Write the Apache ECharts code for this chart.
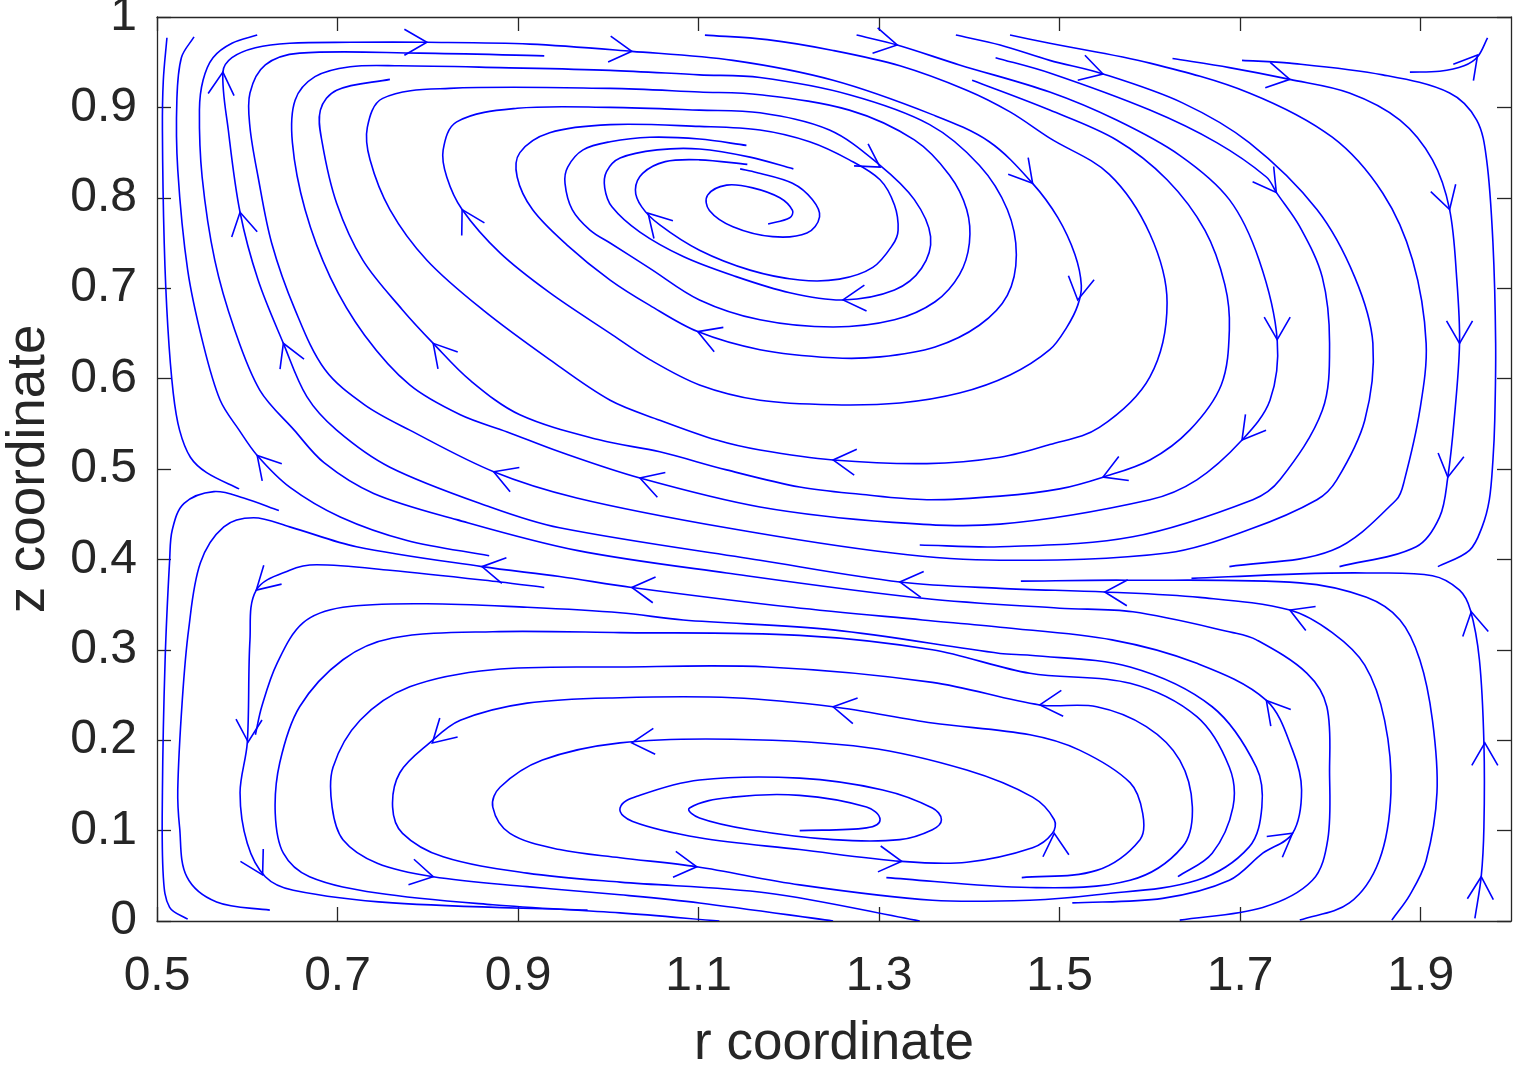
<!DOCTYPE html>
<html>
<head>
<meta charset="utf-8">
<style>html,body{margin:0;padding:0;background:#fff;overflow:hidden}#c{width:1515px;height:1065px}</style>
<script src="https://cdn.jsdelivr.net/npm/echarts@6/dist/echarts.min.js"></script>
</head>
<body>
<div id="c"></div>
<script>
// ---- tick labels ----
const xTickValues = [0.5, 0.7, 0.9, 1.1, 1.3, 1.5, 1.7, 1.9];
const yTickStep = 0.1;

// ---- streamlines, [r, z] points ----
const streamS1 = [[0.511,0.977],[0.507,0.930],[0.506,0.875],[0.508,0.750],[0.512,0.657],[0.518,0.584],[0.525,0.543],[0.537,0.513],[0.555,0.496],[0.591,0.478]];
const streamB = [[0.541,0.978],[0.527,0.955],[0.522,0.908],[0.523,0.831],[0.534,0.720],[0.551,0.639],[0.570,0.576],[0.591,0.543],[0.611,0.515],[0.647,0.480],[0.703,0.447],[0.777,0.421],[0.868,0.404]];
const streamC = [[0.611,0.980],[0.583,0.971],[0.562,0.955],[0.551,0.930],[0.547,0.897],[0.550,0.823],[0.564,0.731],[0.586,0.654],[0.614,0.587],[0.652,0.543],[0.685,0.507],[0.740,0.473],[0.832,0.444],[0.965,0.410],[1.131,0.385],[1.348,0.357],[1.500,0.346],[1.581,0.342],[1.692,0.319],[1.718,0.311],[1.774,0.274],[1.796,0.237],[1.799,0.164],[1.797,0.090],[1.780,0.045],[1.725,0.015],[1.633,0.001]];
const streamD = [[1.766,0.001],[1.821,0.020],[1.854,0.067],[1.867,0.142],[1.860,0.222],[1.838,0.283],[1.802,0.319],[1.755,0.344],[1.655,0.358],[1.550,0.364],[1.434,0.368],[1.323,0.375],[1.168,0.399],[0.946,0.435],[0.869,0.458],[0.758,0.502],[0.699,0.543],[0.666,0.580],[0.640,0.639],[0.612,0.709],[0.592,0.784],[0.579,0.875],[0.573,0.939],[0.583,0.955],[0.609,0.966],[0.647,0.971],[0.714,0.972],[0.799,0.972],[0.913,0.970],[1.026,0.962],[1.138,0.952],[1.249,0.930],[1.359,0.892],[1.422,0.862],[1.470,0.816],[1.498,0.778],[1.517,0.737],[1.524,0.703],[1.520,0.681],[1.508,0.657],[1.489,0.632],[1.445,0.604],[1.389,0.584],[1.323,0.573],[1.249,0.571],[1.168,0.576],[1.101,0.593],[1.046,0.621],[1.002,0.650],[0.935,0.695],[0.880,0.739],[0.838,0.787],[0.821,0.823],[0.817,0.853],[0.832,0.884],[0.899,0.899],[1.002,0.900],[1.101,0.897],[1.168,0.894],[1.245,0.875],[1.301,0.836],[1.339,0.798],[1.357,0.757],[1.347,0.722],[1.317,0.698],[1.260,0.687],[1.201,0.695],[1.138,0.714],[1.083,0.735],[1.035,0.762],[1.004,0.790],[0.996,0.811],[0.998,0.829],[1.013,0.844],[1.054,0.853],[1.101,0.854],[1.157,0.845],[1.205,0.832]];
const streamH = [[1.107,0.980],[1.176,0.975],[1.249,0.963],[1.323,0.946],[1.397,0.919],[1.445,0.895],[1.489,0.866],[1.555,0.826],[1.600,0.760],[1.619,0.684],[1.600,0.602],[1.544,0.546],[1.489,0.527],[1.434,0.513],[1.353,0.506],[1.249,0.510],[1.168,0.521],[1.120,0.532],[1.057,0.554],[1.002,0.576],[0.935,0.621],[0.861,0.676],[0.799,0.731],[0.758,0.787],[0.736,0.842],[0.733,0.878],[0.750,0.910],[0.824,0.921],[1.002,0.921],[1.101,0.917],[1.168,0.914],[1.267,0.897],[1.339,0.864],[1.378,0.825],[1.397,0.787],[1.400,0.750],[1.389,0.715],[1.362,0.685],[1.317,0.665],[1.249,0.657],[1.168,0.665],[1.101,0.687],[1.046,0.722],[1.002,0.750],[0.980,0.764],[0.960,0.787],[0.952,0.816],[0.955,0.834],[0.972,0.853],[1.002,0.862],[1.046,0.867],[1.101,0.865],[1.153,0.858]];
const streamF = [[1.275,0.980],[1.320,0.969],[1.389,0.947],[1.489,0.917],[1.563,0.886],[1.633,0.847],[1.688,0.798],[1.721,0.731],[1.741,0.643],[1.733,0.576],[1.702,0.532],[1.652,0.488],[1.600,0.466],[1.434,0.439],[1.315,0.441],[1.168,0.458],[1.035,0.490],[0.946,0.519],[0.888,0.541],[0.836,0.560],[0.780,0.593],[0.730,0.648],[0.692,0.712],[0.664,0.787],[0.650,0.861],[0.653,0.908],[0.675,0.934],[0.714,0.945],[0.769,0.946],[0.880,0.944],[1.002,0.941],[1.101,0.936],[1.168,0.933],[1.267,0.914],[1.356,0.881],[1.411,0.836],[1.442,0.787],[1.452,0.737],[1.442,0.692],[1.411,0.659],[1.362,0.635],[1.301,0.624],[1.249,0.623],[1.168,0.632],[1.099,0.652],[1.046,0.681],[1.002,0.709],[0.954,0.748],[0.916,0.787],[0.899,0.823],[0.902,0.850],[0.935,0.872],[1.002,0.881],[1.101,0.879],[1.168,0.875],[1.223,0.862],[1.267,0.842],[1.301,0.820],[1.317,0.792],[1.321,0.764],[1.315,0.748],[1.293,0.723],[1.256,0.710],[1.212,0.709],[1.157,0.720],[1.101,0.742],[1.057,0.770],[1.037,0.790],[1.030,0.809],[1.038,0.827],[1.063,0.840],[1.101,0.842],[1.154,0.837]];
const streamG = [[1.403,0.930],[1.489,0.897],[1.563,0.864],[1.619,0.820],[1.661,0.764],[1.683,0.704],[1.688,0.654],[1.679,0.593],[1.644,0.543],[1.600,0.510],[1.548,0.491],[1.500,0.478],[1.434,0.470],[1.353,0.466],[1.279,0.472],[1.212,0.480],[1.131,0.499],[1.057,0.519],[0.991,0.532],[0.902,0.560],[0.847,0.598],[0.806,0.639],[0.772,0.676],[0.728,0.731],[0.699,0.794],[0.683,0.861],[0.681,0.897],[0.699,0.919],[0.758,0.931]];
const streamE = [[1.385,0.980],[1.434,0.969],[1.489,0.952],[1.548,0.937],[1.636,0.905],[1.710,0.861],[1.785,0.787],[1.827,0.712],[1.847,0.639],[1.838,0.554],[1.807,0.488],[1.785,0.466],[1.710,0.433],[1.619,0.407],[1.434,0.399],[1.315,0.407],[1.131,0.435],[0.965,0.468],[0.873,0.497],[0.780,0.543],[0.730,0.571],[0.686,0.610],[0.653,0.676],[0.627,0.750],[0.612,0.823],[0.603,0.878],[0.603,0.916],[0.620,0.947],[0.658,0.960],[0.791,0.960],[0.929,0.957]];
const streamE3 = [[1.429,0.955],[1.489,0.938],[1.600,0.897],[1.674,0.861],[1.729,0.823],[1.740,0.806],[1.766,0.768],[1.791,0.712],[1.799,0.639],[1.791,0.565],[1.744,0.488],[1.714,0.466],[1.581,0.425],[1.434,0.414],[1.345,0.416]];
const streamC3 = [[1.445,0.980],[1.489,0.971],[1.600,0.949],[1.710,0.916],[1.802,0.867],[1.858,0.805],[1.891,0.731],[1.906,0.639],[1.899,0.565],[1.882,0.488],[1.873,0.466],[1.802,0.410],[1.688,0.392]];
const streamB3 = [[1.625,0.954],[1.688,0.944],[1.755,0.931],[1.821,0.916],[1.877,0.886],[1.913,0.842],[1.932,0.787],[1.940,0.709],[1.943,0.639],[1.937,0.554],[1.930,0.491],[1.921,0.447],[1.895,0.414],[1.810,0.392]];
const streamA3 = [[1.702,0.952],[1.755,0.949],[1.858,0.936],[1.932,0.916],[1.962,0.886],[1.973,0.842],[1.980,0.750],[1.983,0.639],[1.982,0.554],[1.980,0.510],[1.976,0.466],[1.968,0.436],[1.954,0.410],[1.919,0.392]];
const streamCorner = [[1.888,0.939],[1.921,0.940],[1.948,0.946],[1.963,0.956],[1.974,0.977]];
const streamCoreUp = [[1.177,0.771],[1.201,0.778],[1.204,0.786],[1.190,0.800],[1.160,0.811],[1.131,0.814],[1.110,0.803],[1.112,0.786],[1.138,0.768],[1.182,0.757],[1.220,0.761],[1.234,0.779],[1.226,0.798],[1.204,0.816],[1.164,0.828],[1.146,0.832]];
const streamM1 = [[1.457,0.376],[1.574,0.377],[1.766,0.374],[1.840,0.358],[1.877,0.333],[1.899,0.289],[1.913,0.222],[1.918,0.142],[1.906,0.067],[1.888,0.029],[1.868,0.001]];
const streamWallR = [[1.646,0.379],[1.766,0.384],[1.840,0.385],[1.913,0.382],[1.943,0.366],[1.955,0.344],[1.965,0.289],[1.970,0.197],[1.970,0.104],[1.967,0.049],[1.960,0.003]];
const streamM4 = [[1.514,0.020],[1.614,0.025],[1.688,0.045],[1.725,0.075],[1.758,0.097],[1.768,0.145],[1.758,0.189],[1.729,0.244],[1.652,0.285],[1.558,0.311],[1.434,0.325],[1.348,0.333],[1.204,0.347],[1.026,0.369],[0.946,0.381],[0.860,0.392],[0.721,0.414],[0.647,0.436],[0.607,0.446],[0.574,0.436],[0.548,0.396],[0.535,0.322],[0.528,0.244],[0.523,0.145],[0.525,0.104],[0.533,0.049],[0.566,0.021],[0.625,0.012]];
const streamWallL = [[0.635,0.454],[0.596,0.468],[0.563,0.475],[0.530,0.462],[0.517,0.433],[0.514,0.399],[0.509,0.289],[0.506,0.142],[0.507,0.049],[0.514,0.015],[0.534,0.002]];
const streamCl = [[0.929,0.369],[0.880,0.375],[0.758,0.388],[0.677,0.394],[0.647,0.388],[0.610,0.366],[0.603,0.311],[0.600,0.197],[0.592,0.142],[0.600,0.086],[0.620,0.049],[0.651,0.034],[0.761,0.020],[0.977,0.012]];
const streamSpiral = [[1.212,0.100],[1.286,0.103],[1.301,0.112],[1.286,0.126],[1.212,0.139],[1.138,0.137],[1.090,0.125],[1.101,0.114],[1.157,0.101],[1.249,0.090],[1.323,0.090],[1.359,0.101],[1.369,0.112],[1.359,0.125],[1.304,0.145],[1.212,0.158],[1.101,0.156],[1.035,0.139],[1.013,0.125],[1.027,0.110],[1.101,0.092],[1.212,0.079],[1.325,0.066],[1.397,0.065],[1.470,0.081],[1.492,0.097],[1.494,0.112],[1.470,0.137],[1.397,0.167],[1.286,0.192],[1.138,0.201],[1.013,0.197],[0.927,0.178],[0.880,0.148],[0.872,0.126],[0.891,0.097],[0.946,0.079],[1.013,0.070],[1.098,0.060],[1.212,0.040],[1.359,0.023],[1.467,0.023],[1.541,0.029],[1.652,0.045],[1.710,0.082],[1.724,0.126],[1.718,0.170],[1.669,0.237],[1.578,0.281],[1.467,0.294],[1.434,0.296],[1.249,0.322],[1.083,0.333],[1.013,0.341],[0.910,0.347],[0.799,0.351],[0.706,0.347],[0.662,0.330],[0.633,0.285],[0.616,0.237],[0.609,0.206]];
const streamL2 = [[1.631,0.049],[1.669,0.075],[1.692,0.126],[1.688,0.170],[1.652,0.226],[1.578,0.263],[1.467,0.274],[1.359,0.300],[1.212,0.316],[1.013,0.319],[0.872,0.320],[0.761,0.313],[0.706,0.289],[0.658,0.237],[0.636,0.175],[0.631,0.119],[0.640,0.075],[0.669,0.049],[0.744,0.031],[0.872,0.018],[1.013,0.009],[1.123,0.000]];
const streamL3 = [[1.308,0.048],[1.467,0.037],[1.578,0.045],[1.636,0.082],[1.647,0.126],[1.633,0.178],[1.596,0.215],[1.541,0.237],[1.478,0.239],[1.359,0.264],[1.176,0.281],[1.013,0.281],[0.872,0.278],[0.780,0.259],[0.725,0.222],[0.695,0.170],[0.694,0.126],[0.706,0.090],[0.744,0.064],[0.806,0.049],[0.910,0.038],[1.013,0.029],[1.101,0.020],[1.249,0.000]];
const streamL4 = [[1.458,0.048],[1.541,0.056],[1.589,0.090],[1.592,0.119],[1.578,0.153],[1.522,0.189],[1.467,0.206],[1.359,0.219],[1.249,0.237],[1.138,0.247],[1.013,0.247],[0.910,0.241],[0.836,0.222],[0.802,0.197],[0.769,0.164],[0.761,0.126],[0.772,0.097],[0.817,0.071],[0.910,0.053],[1.013,0.043],[1.176,0.031],[1.345,0.000]];

// ---- arrowheads: [r tip, z tip, r upstream, z upstream] ----
const arrowData = [
[0.799,0.972,0.769,0.972],[1.026,0.962,0.996,0.965],[0.573,0.939,0.571,0.914],[0.592,0.784,0.597,0.759],
[0.640,0.639,0.650,0.615],[0.611,0.515,0.625,0.499],[0.838,0.787,0.852,0.762],[0.806,0.639,0.824,0.618],
[1.044,0.783,1.059,0.767],[1.301,0.834,1.276,0.850],[1.260,0.687,1.284,0.689],[1.099,0.652,1.123,0.643],
[1.249,0.510,1.279,0.507],[1.035,0.490,1.063,0.481],[0.873,0.497,0.902,0.486],[1.548,0.491,1.572,0.501],
[1.470,0.816,1.450,0.840],[1.520,0.687,1.524,0.712],[1.320,0.969,1.290,0.975],[1.548,0.937,1.520,0.945],
[1.755,0.931,1.724,0.937],[1.740,0.806,1.727,0.824],[1.741,0.643,1.741,0.670],[1.702,0.532,1.719,0.554],
[1.932,0.787,1.924,0.814],[1.943,0.639,1.943,0.667],[1.930,0.491,1.934,0.519],[1.963,0.958,1.954,0.947],
[1.550,0.364,1.578,0.363],[1.755,0.344,1.782,0.333],[1.323,0.375,1.350,0.372],[1.026,0.369,1.054,0.366],
[0.860,0.392,0.888,0.387],[0.610,0.366,0.627,0.382],[1.956,0.342,1.961,0.316],[0.601,0.198,0.602,0.225],
[0.617,0.051,0.605,0.073],[0.805,0.197,0.822,0.213],[0.806,0.049,0.778,0.055],[1.026,0.197,1.054,0.199],
[1.249,0.237,1.276,0.232],[1.478,0.239,1.506,0.241],[1.098,0.060,1.070,0.063],[1.325,0.066,1.297,0.069],
[1.494,0.097,1.496,0.070],[1.729,0.244,1.749,0.220],[1.758,0.097,1.738,0.082],[1.971,0.197,1.971,0.169],
[1.967,0.049,1.966,0.023]
];

const streamlines = [streamS1, streamB, streamC, streamD, streamH, streamF, streamG, streamE, streamE3,
  streamC3, streamB3, streamA3, streamCorner, streamCoreUp, streamM1, streamWallR, streamM4, streamWallL,
  streamCl, streamSpiral, streamL2, streamL3, streamL4];

const FONT = '"Liberation Sans", Arial, Helvetica, sans-serif';
const AX = '#262626';
const BLUE = '#0000ff';

const chart = echarts.init(document.getElementById('c'), null, {renderer: 'canvas'});

// Render each streamline through the axis scales as a smooth curve
function unit(dx, dy) {
  const l = Math.sqrt(dx * dx + dy * dy) || 1;
  return [dx / l, dy / l];
}
function smoothPath(pts) {
  const n = pts.length;
  const dirs = pts.map(function (p, i) {
    const a = pts[Math.max(0, i - 1)], b = pts[Math.min(n - 1, i + 1)];
    return unit(b[0] - a[0], b[1] - a[1]);
  });
  let d = 'M' + pts[0][0].toFixed(2) + ' ' + pts[0][1].toFixed(2);
  for (let i = 0; i < n - 1; i++) {
    const p = pts[i], q = pts[i + 1];
    const len = Math.sqrt((q[0] - p[0]) * (q[0] - p[0]) + (q[1] - p[1]) * (q[1] - p[1])) / 3;
    const c1 = [p[0] + dirs[i][0] * len, p[1] + dirs[i][1] * len];
    const c2 = [q[0] - dirs[i + 1][0] * len, q[1] - dirs[i + 1][1] * len];
    d += ' C' + c1[0].toFixed(2) + ' ' + c1[1].toFixed(2) + ' ' + c2[0].toFixed(2) + ' ' + c2[1].toFixed(2) +
      ' ' + q[0].toFixed(2) + ' ' + q[1].toFixed(2);
  }
  return d;
}

const series = [{
  type: 'custom', xAxisIndex: 0, yAxisIndex: 0, silent: true, clip: true,
  data: streamlines.map(function (s, i) { return [s[0][0], s[0][1], i]; }),
  dimensions: ['r', 'z', 'k'],
  encode: {x: 0, y: 1},
  renderItem: function (params, api) {
    const line = streamlines[api.value(2)];
    const px = line.map(function (p) { return api.coord(p); });
    return {
      type: 'path',
      shape: {pathData: smoothPath(px)},
      style: {stroke: BLUE, lineWidth: 1.6, fill: 'none'}
    };
  }
}, {
  type: 'custom', xAxisIndex: 0, yAxisIndex: 0, silent: true,
  data: arrowData,
  dimensions: ['r', 'z', 'rb', 'zb'],
  encode: {x: 0, y: 1},
  renderItem: function (params, api) {
    const p = api.coord([api.value(0), api.value(1)]);
    const q = api.coord([api.value(2), api.value(3)]);
    const a = Math.atan2(p[1] - q[1], p[0] - q[0]);
    const L = 26, t = Math.PI / 6;
    return {
      type: 'polyline',
      shape: {points: [
        [p[0] - L * Math.cos(a - t), p[1] - L * Math.sin(a - t)],
        p,
        [p[0] - L * Math.cos(a + t), p[1] - L * Math.sin(a + t)]
      ]},
      style: {stroke: BLUE, lineWidth: 1.6, fill: null}
    };
  }
}];

const lineStyle = {color: AX, width: 1.3};

chart.setOption({
  animation: false,
  backgroundColor: '#ffffff',
  grid: {left: 157, right: 4, top: 17, bottom: 144, containLabel: false, outerBoundsMode: 'none'},
  xAxis: [{
    type: 'value', min: 0.5, max: 2.0, position: 'bottom',
    name: 'r coordinate', nameLocation: 'middle', nameGap: 97,
    nameTextStyle: {fontSize: 53, color: AX, fontFamily: FONT},
    axisLine: {show: true, onZero: false, lineStyle: lineStyle},
    axisTick: {show: true, inside: true, length: 14, customValues: xTickValues, lineStyle: lineStyle},
    axisLabel: {show: true, customValues: xTickValues, fontSize: 48, color: AX, fontFamily: FONT, margin: 32},
    splitLine: {show: false}
  }, {
    type: 'value', min: 0.5, max: 2.0, position: 'top',
    axisLine: {show: true, onZero: false, lineStyle: lineStyle},
    axisTick: {show: true, inside: true, length: 14, customValues: xTickValues, lineStyle: lineStyle},
    axisLabel: {show: false}, splitLine: {show: false}
  }],
  yAxis: [{
    type: 'value', min: 0, max: 1, interval: yTickStep, position: 'left',
    name: 'z coordinate', nameLocation: 'middle', nameGap: 101, nameRotate: 90,
    nameTextStyle: {fontSize: 53, color: AX, fontFamily: FONT},
    axisLine: {show: true, onZero: false, lineStyle: lineStyle},
    axisTick: {show: true, inside: true, length: 14, lineStyle: lineStyle},
    axisLabel: {show: true, fontSize: 48, color: AX, fontFamily: FONT, margin: 20},
    splitLine: {show: false}
  }, {
    type: 'value', min: 0, max: 1, interval: yTickStep, position: 'right',
    axisLine: {show: true, onZero: false, lineStyle: lineStyle},
    axisTick: {show: true, inside: true, length: 14, lineStyle: lineStyle},
    axisLabel: {show: false}, splitLine: {show: false}
  }],
  series: series
});
</script>
</body>
</html>
